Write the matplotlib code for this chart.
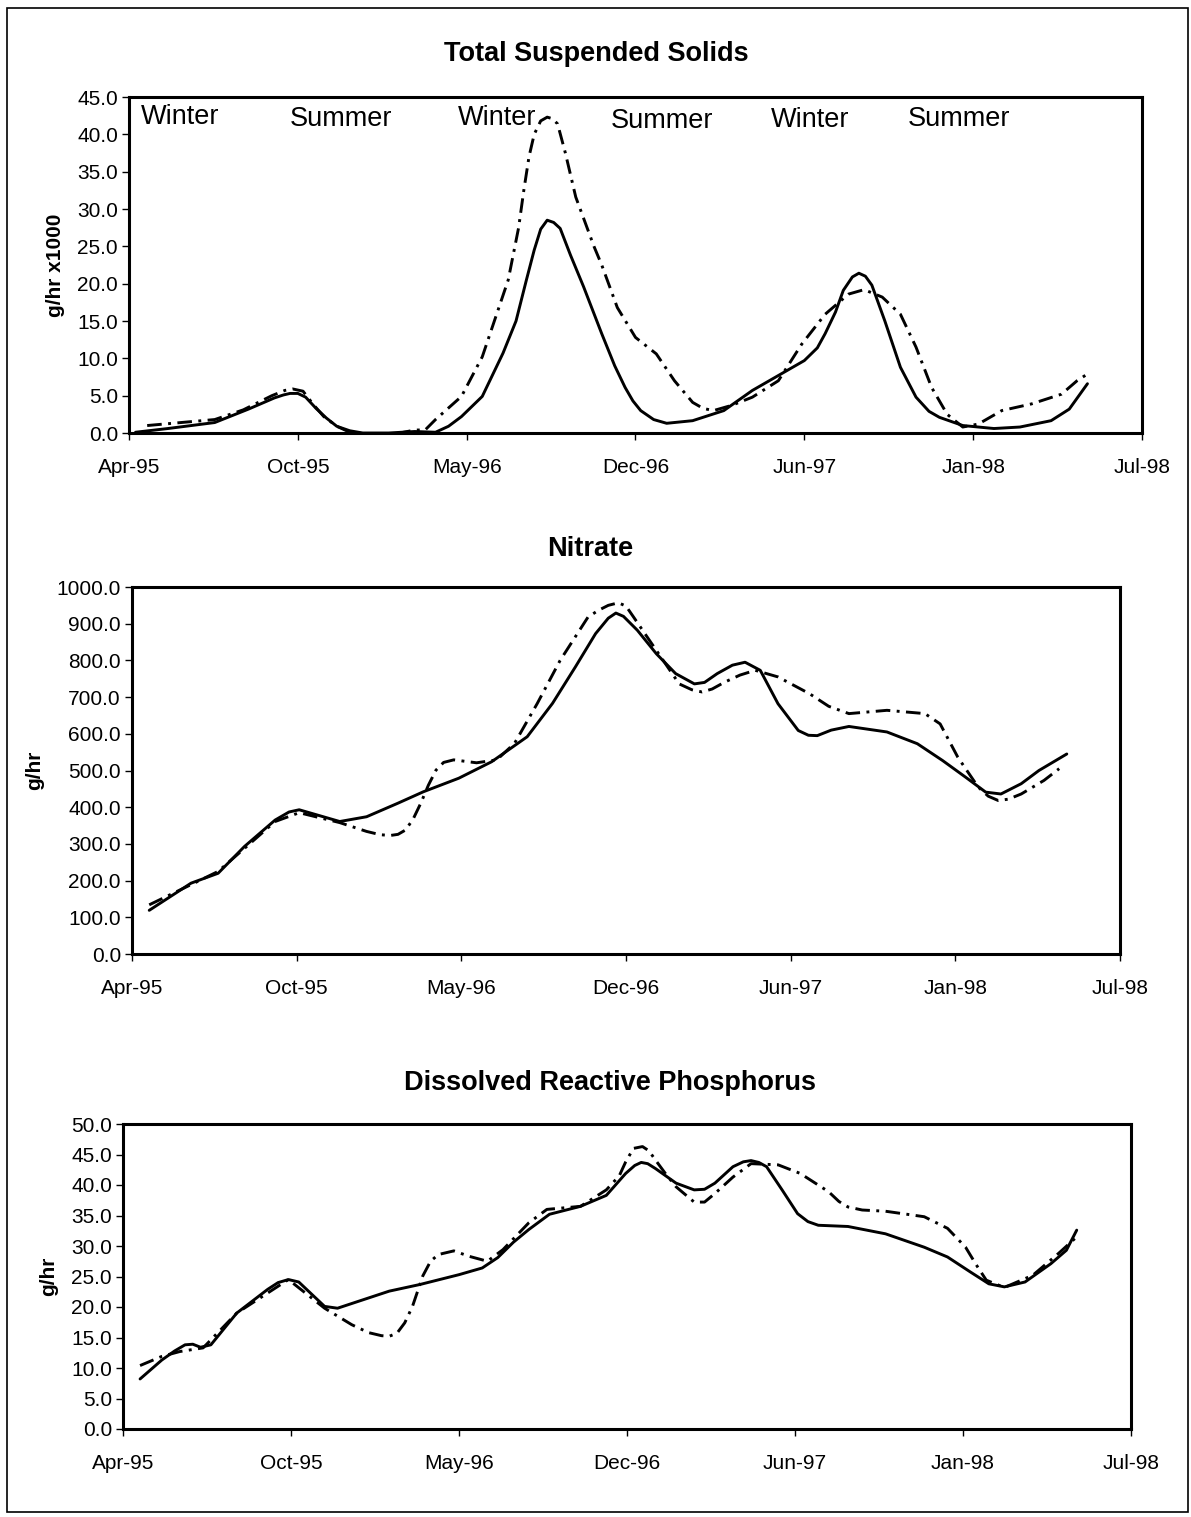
import matplotlib
matplotlib.use("Agg")
import matplotlib.pyplot as plt
from matplotlib.patches import Rectangle

plt.rcParams['font.family'] = ['Liberation Sans', 'DejaVu Sans']

# x values are months after April 1995
tick_labels = ["Apr-95", "Oct-95", "May-96", "Dec-96", "Jun-97", "Jan-98", "Jul-98"]
tick_pos = [0, 6.5, 13, 19.5, 26, 32.5, 39]

# ---- Total Suspended Solids (g/hr x1000)
tss_solid_x = [0.25, 1.5, 3.3, 4.6, 5.6, 5.95, 6.2, 6.5, 6.8, 7.2, 7.6, 8.0, 8.5, 9.0, 10.0, 11.0, 11.8,
               12.3, 12.8, 13.6, 14.4, 14.9, 15.3, 15.6, 15.85, 16.1, 16.35, 16.6, 17.0, 17.5, 18.2,
               18.7, 19.1, 19.4, 19.7, 20.2, 20.7, 21.7, 22.9, 24.0, 25.0, 26.0, 26.5, 26.8, 27.2,
               27.5, 27.85, 28.1, 28.35, 28.6, 29.1, 29.7, 30.3, 30.8, 31.2, 32.1, 33.3, 34.3,
               35.5, 36.2, 36.9]
tss_solid_y = [0.1, 0.6, 1.4, 3.2, 4.7, 5.1, 5.3, 5.3, 4.8, 3.3, 2.0, 0.9, 0.3, 0.0, 0.0, 0.2, 0.1,
               0.9, 2.2, 4.9, 10.7, 15.0, 20.5, 24.5, 27.3, 28.5, 28.2, 27.4, 23.8, 19.6, 13.3,
               9.0, 6.1, 4.3, 3.0, 1.8, 1.3, 1.65, 3.0, 5.7, 7.7, 9.7, 11.4, 13.3, 16.2,
               19.1, 20.9, 21.4, 21.0, 19.8, 15.0, 8.8, 4.8, 2.9, 2.1, 1.0, 0.6, 0.8,
               1.65, 3.2, 6.6]
tss_dash_x = [0.7, 3.3, 4.4, 5.5, 6.0, 6.3, 6.7, 7.1, 7.5, 8.0, 8.5, 9.1, 10.0, 11.0, 11.4, 11.8,
              12.8, 13.6, 14.6, 15.0, 15.2, 15.4, 15.6, 15.85, 16.1, 16.3, 16.5, 16.8, 17.2, 17.9,
              18.2, 18.8, 19.5, 20.3, 21.0, 21.7, 22.1, 22.5, 23.2, 24.0, 25.0, 25.9, 26.8, 27.7,
              28.3, 29.0, 29.7, 30.3, 30.9, 31.5, 32.1, 32.7, 33.6, 34.75, 35.9, 36.5, 36.9]
tss_dash_y = [1.0, 1.8, 3.1, 5.0, 5.7, 5.9, 5.6, 3.8, 2.2, 0.9, 0.1, -0.5, -0.3, 0.4, 0.4, 1.8,
              4.9, 10.2, 20.5, 27.5, 32.5, 37.0, 40.0, 41.8, 42.3, 42.1, 41.4, 37.5, 31.6, 25.0,
              22.5, 16.8, 12.8, 10.6, 7.0, 4.1, 3.3, 3.0, 3.7, 4.8, 7.0, 11.9, 15.9, 18.6,
              19.2, 18.2, 15.9, 11.5, 6.1, 2.5, 0.8, 1.2, 3.0, 3.9, 5.2, 7.0, 7.9]

# ---- Nitrate (g/hr)
no3_solid_x = [0.68, 2.33, 3.4, 4.44, 5.65, 6.2, 6.6, 7.3, 8.2, 9.26, 10.5, 11.5, 12.9, 14.2, 15.6,
               16.6, 17.5, 18.3, 18.8, 19.1, 19.4, 19.95, 20.7, 21.46, 22.2, 22.6, 23.1, 23.7, 24.2,
               24.8, 25.5, 26.3, 26.7, 27.05, 27.6, 28.3, 29.8, 31.0, 32.0, 32.9, 33.7, 34.3, 35.1,
               35.8, 36.9]
no3_solid_y = [119, 193, 220, 293, 365, 387, 393, 379, 361, 374, 411, 442, 479, 524, 592,
               683, 782, 873, 915, 929, 920, 882, 818, 764, 736, 740, 764, 787, 795,
               773, 682, 609, 596, 595, 610, 620, 605, 573, 527, 482, 441, 436, 464,
               500, 545]
no3_dash_x = [0.68, 2.33, 3.4, 5.65, 6.6, 8.2, 9.26, 9.8, 10.2, 10.5, 10.8, 11.1, 11.4, 11.7, 12.0,
              12.3, 12.7, 13.6, 14.4, 15.1, 16.0, 16.9, 18.0, 18.4, 18.8, 19.2, 19.5, 19.8, 20.7,
              21.6, 22.1, 22.5, 22.9, 23.4, 24.0, 24.6, 25.5, 26.75, 27.5, 28.3, 29.8, 31.3, 31.9,
              32.6, 33.4, 33.8, 34.2, 34.6, 35.1, 36.0, 36.6]
no3_dash_y = [134, 189, 225, 361, 385, 358, 334, 325, 323, 326, 338, 368, 411, 460, 501,
              522, 529, 521, 529, 574, 683, 800, 918, 936, 950, 957, 948, 918, 827,
              736, 720, 714, 722, 741, 760, 773, 755, 709, 675, 655, 664, 655, 627,
              536, 455, 430, 418, 422, 436, 473, 505]

# ---- Dissolved Reactive Phosphorus (g/hr)
drp_solid_x = [0.66, 1.5, 2.0, 2.4, 2.7, 3.0, 3.4, 4.4, 5.6, 6.0, 6.4, 6.8, 7.1, 7.8, 8.3, 9.3,
               10.3, 11.5, 13.0, 13.9, 14.5, 15.1, 15.7, 16.5, 17.7, 18.7, 19.45, 19.8, 20.05,
               20.3, 20.6, 21.4, 22.1, 22.5, 22.9, 23.6, 24.0, 24.3, 24.6, 24.9, 25.5, 26.1, 26.5,
               26.9, 28.05, 29.5, 31.0, 31.9, 32.8, 33.5, 34.1, 34.9, 35.9, 36.5, 36.9]
drp_solid_y = [8.2, 11.3, 12.8, 13.8, 13.9, 13.4, 13.8, 19.0, 22.9, 24.0, 24.5, 24.1, 22.9, 20.1,
               19.8, 21.2, 22.6, 23.7, 25.3, 26.4, 28.1, 30.6, 32.7, 35.2, 36.5, 38.3, 41.9, 43.2,
               43.7, 43.5, 42.7, 40.3, 39.2, 39.3, 40.3, 43.0, 43.8, 44.0, 43.7, 43.0, 39.2, 35.3,
               34.0, 33.4, 33.2, 32.0, 29.8, 28.2, 25.7, 23.8, 23.3, 24.1, 27.1, 29.3, 32.6]
drp_dash_x = [0.66, 1.5, 2.2, 3.1, 4.4, 6.4, 7.8, 8.85, 9.5, 10.0, 10.3, 10.6, 10.9, 11.2, 11.6,
              11.9, 12.2, 12.8, 13.4, 14.1, 14.7, 15.7, 16.4, 17.7, 18.7, 19.2, 19.45, 19.75,
              20.1, 20.35, 20.6, 21.0, 21.4, 22.1, 22.5, 22.9, 23.6, 24.3, 25.35, 26.2, 27.3,
              27.7, 28.05, 28.6, 29.5, 31.0, 31.9, 32.6, 33.0, 33.4, 34.1, 35.2, 36.2, 36.9]
drp_dash_y = [10.4, 11.9, 12.7, 13.3, 19.0, 24.5, 19.8, 17.1, 15.8, 15.3, 15.2, 15.7, 17.4, 20.1,
              25.1, 27.5, 28.6, 29.2, 28.3, 27.5, 29.4, 33.8, 36.0, 36.5, 39.2, 41.5, 43.8, 46.0,
              46.3, 45.6, 44.1, 41.8, 39.7, 37.2, 37.2, 38.6, 41.3, 43.5, 43.3, 41.9, 38.9,
              37.3, 36.4, 35.9, 35.7, 34.8, 32.9, 29.8, 27.0, 24.4, 23.2, 25.2, 28.8, 31.5]

season_labels = ["Winter", "Summer", "Winter", "Summer", "Winter", "Summer"]
season_x = [0.45, 6.2, 12.65, 18.55, 24.7, 30.0]
season_y = [42.3, 42.0, 42.2, 41.8, 41.9, 42.0]

fig = plt.figure(figsize=(11.91, 15.17), dpi=100)
W, H = 1191.0, 1517.0

# outer frame
fig.patches.append(Rectangle((7 / W, 1 - 1512 / H), (1188 - 7) / W, (1512 - 8) / H,
                             transform=fig.transFigure, fill=False, lw=1.2, ec='black'))

panels = [
    dict(box=(129, 97, 1142, 433), title="Total Suspended Solids", title_xy=(596, 54),
         ylim=(0, 45), ystep=5, ylabel="g/hr x1000",
         sx=tss_solid_x, sy=tss_solid_y, dx=tss_dash_x, dy=tss_dash_y),
    dict(box=(132, 587, 1120, 954), title="Nitrate", title_xy=(590, 549),
         ylim=(0, 1000), ystep=100, ylabel="g/hr",
         sx=no3_solid_x, sy=no3_solid_y, dx=no3_dash_x, dy=no3_dash_y),
    dict(box=(123, 1124, 1131, 1429), title="Dissolved Reactive Phosphorus", title_xy=(610, 1083),
         ylim=(0, 50), ystep=5, ylabel="g/hr",
         sx=drp_solid_x, sy=drp_solid_y, dx=drp_dash_x, dy=drp_dash_y),
]

axes = []
for p in panels:
    l, t, r, b = p['box']
    ax = fig.add_axes([l / W, 1 - b / H, (r - l) / W, (b - t) / H])
    axes.append(ax)
    ax.plot(p['sx'], p['sy'], color='black', lw=2.1, solid_joinstyle='round',
            solid_capstyle='round', zorder=3)
    ax.plot(p['dx'], p['dy'], color='black', lw=2.1, dash_joinstyle='round',
            linestyle=(0, (5, 2.2, 1, 2.2)), zorder=3)
    ax.set_xlim(0, 39)
    ax.set_ylim(*p['ylim'])
    ax.set_xticks(tick_pos)
    ax.set_xticklabels(tick_labels)
    yt = [p['ylim'][0] + i * p['ystep'] for i in range(int((p['ylim'][1] - p['ylim'][0]) / p['ystep']) + 1)]
    ax.set_yticks(yt)
    ax.set_yticklabels([f"{v:.1f}" for v in yt])
    ax.tick_params(axis='both', direction='out', length=5, width=1, labelsize=15, colors='black')
    ax.tick_params(axis='x', pad=13)
    ax.tick_params(axis='y', pad=3)
    for s in ax.spines.values():
        s.set_linewidth(2.2)
    ax.set_ylabel(p['ylabel'], fontsize=15, fontweight='bold', labelpad=9)
    tx, ty = p['title_xy']
    fig.text(tx / W, 1 - ty / H, p['title'], ha='center', va='center',
             fontsize=19.5, fontweight='bold', transform=fig.transFigure)

for lab, sxp, syp in zip(season_labels, season_x, season_y):
    axes[0].text(sxp, syp, lab, fontsize=19.5, ha='left', va='center', zorder=4)

fig.savefig("out.png", dpi=100)
